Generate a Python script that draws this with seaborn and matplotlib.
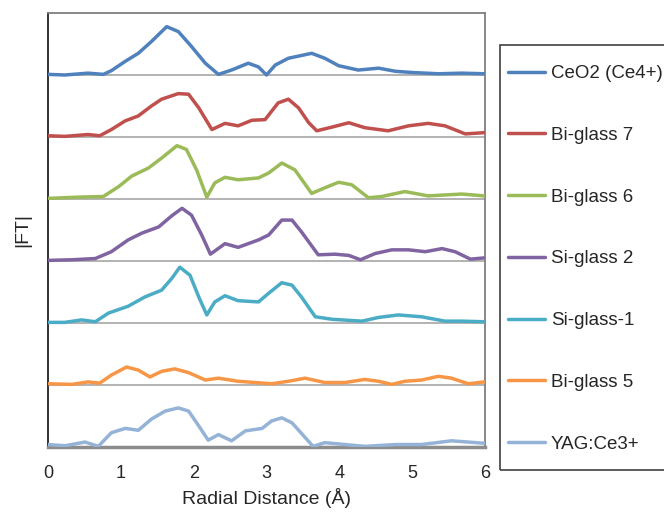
"""
FT magnitude vs radial distance, stacked curves (Ce L3 EXAFS style).
Each series is offset by one grid unit so they sit on their own baseline.
"""
import matplotlib
matplotlib.use("Agg")
import matplotlib.pyplot as plt
from matplotlib.patches import Rectangle
import seaborn as sns

sns.set_style("white")
plt.rcParams["font.family"] = ["Liberation Sans", "DejaVu Sans"]

# (radial distance, |FT|) per sample, top curve first
LABELS = ["CeO2 (Ce4+)", "Bi-glass 7", "Bi-glass 6", "Si-glass 2",
          "Si-glass-1", "Bi-glass 5", "YAG:Ce3+"]
COLORS = ["#4F81BD", "#C0504D", "#9BBB59", "#8064A2",
          "#4BACC6", "#F79646", "#95B3D7"]

ceo2_r = [0, 0.23, 0.55, 0.76, 0.87, 1.06, 1.24, 1.42, 1.63, 1.79, 1.97, 2.16,
          2.34, 2.52, 2.75, 2.89, 3.00, 3.12, 3.30, 3.62, 3.80, 3.99, 4.26,
          4.54, 4.77, 5.00, 5.36, 5.68, 5.99]
ceo2_ft = [0.01, 0.00, 0.03, 0.01, 0.07, 0.22, 0.35, 0.54, 0.78, 0.70, 0.46,
           0.19, 0.01, 0.08, 0.19, 0.13, 0.00, 0.16, 0.27, 0.35, 0.27, 0.15,
           0.08, 0.11, 0.06, 0.04, 0.02, 0.03, 0.02]

bi7_r = [0, 0.23, 0.55, 0.71, 0.87, 1.06, 1.24, 1.42, 1.56, 1.79, 1.93, 2.07,
         2.25, 2.43, 2.61, 2.80, 2.98, 3.16, 3.30, 3.44, 3.58, 3.69, 3.90,
         4.13, 4.35, 4.67, 4.95, 5.22, 5.45, 5.73, 5.99]
bi7_ft = [0.02, 0.01, 0.04, 0.02, 0.12, 0.26, 0.34, 0.50, 0.61, 0.70, 0.69,
          0.47, 0.12, 0.22, 0.18, 0.27, 0.28, 0.55, 0.61, 0.47, 0.23, 0.10,
          0.16, 0.23, 0.15, 0.10, 0.18, 0.22, 0.18, 0.05, 0.07]

bi6_r = [0, 0.42, 0.76, 0.97, 1.15, 1.38, 1.56, 1.77, 1.90, 2.04, 2.18, 2.29,
         2.43, 2.61, 2.89, 3.03, 3.21, 3.39, 3.62, 3.80, 3.99, 4.17, 4.40,
         4.58, 4.90, 5.22, 5.68, 5.99]
bi6_ft = [0.01, 0.03, 0.04, 0.20, 0.37, 0.50, 0.66, 0.86, 0.80, 0.47, 0.03,
          0.26, 0.35, 0.31, 0.34, 0.42, 0.58, 0.47, 0.09, 0.18, 0.27, 0.23,
          0.02, 0.04, 0.12, 0.05, 0.08, 0.05]

si2_r = [0, 0.33, 0.65, 0.87, 1.10, 1.29, 1.52, 1.70, 1.84, 1.97, 2.11, 2.23,
         2.43, 2.61, 2.89, 3.03, 3.21, 3.35, 3.48, 3.71, 3.94, 4.13, 4.29,
         4.49, 4.72, 4.95, 5.18, 5.41, 5.59, 5.80, 5.99]
si2_ft = [0.01, 0.02, 0.04, 0.15, 0.34, 0.45, 0.55, 0.73, 0.85, 0.74, 0.42,
          0.11, 0.28, 0.22, 0.34, 0.42, 0.66, 0.66, 0.47, 0.10, 0.11, 0.09,
          0.02, 0.12, 0.18, 0.18, 0.15, 0.20, 0.15, 0.03, 0.05]

si1_r = [0, 0.23, 0.46, 0.65, 0.83, 1.10, 1.33, 1.56, 1.70, 1.81, 1.95, 2.07,
         2.18, 2.29, 2.43, 2.61, 2.89, 3.03, 3.21, 3.35, 3.48, 3.67, 3.90,
         4.31, 4.54, 4.81, 5.13, 5.45, 5.68, 5.99]
si1_ft = [0.01, 0.01, 0.05, 0.02, 0.16, 0.27, 0.42, 0.53, 0.72, 0.90, 0.77,
          0.42, 0.13, 0.34, 0.44, 0.36, 0.34, 0.48, 0.65, 0.61, 0.42, 0.10,
          0.06, 0.03, 0.09, 0.13, 0.10, 0.03, 0.03, 0.02]

bi5_r = [0, 0.33, 0.55, 0.71, 0.87, 1.08, 1.24, 1.40, 1.56, 1.74, 1.93, 2.16,
         2.34, 2.61, 3.07, 3.30, 3.53, 3.80, 4.08, 4.35, 4.54, 4.72, 4.90,
         5.13, 5.36, 5.54, 5.77, 5.99]
bi5_ft = [0.02, 0.01, 0.05, 0.03, 0.16, 0.29, 0.24, 0.13, 0.22, 0.26, 0.20,
          0.08, 0.11, 0.06, 0.02, 0.06, 0.11, 0.04, 0.04, 0.09, 0.06, 0.01,
          0.06, 0.08, 0.14, 0.11, 0.02, 0.05]

yag_r = [0, 0.23, 0.51, 0.69, 0.87, 1.06, 1.24, 1.42, 1.61, 1.79, 1.93, 2.07,
         2.20, 2.34, 2.52, 2.71, 2.94, 3.07, 3.21, 3.35, 3.51, 3.64, 3.80,
         4.08, 4.35, 4.77, 5.13, 5.54, 5.99]
yag_ft = [0.04, 0.02, 0.08, 0.01, 0.23, 0.30, 0.27, 0.45, 0.58, 0.63, 0.58,
          0.34, 0.11, 0.20, 0.10, 0.26, 0.30, 0.42, 0.47, 0.39, 0.18, 0.01,
          0.07, 0.04, 0.01, 0.04, 0.04, 0.10, 0.06]

SERIES = [(ceo2_r, ceo2_ft), (bi7_r, bi7_ft), (bi6_r, bi6_ft), (si2_r, si2_ft),
          (si1_r, si1_ft), (bi5_r, bi5_ft), (yag_r, yag_ft)]

W, H = 664, 514


def main():
    fig = plt.figure(figsize=(W / 100, H / 100), dpi=100)
    ax = fig.add_axes([48 / W, 67 / H, 437 / W, 434 / H])

    # baselines: one gridline per stacked curve
    for k in range(1, 7):
        ax.axhline(k, color="#A6A6A6", lw=1.2, zorder=1)

    n = len(SERIES)
    for i, ((r, ft), lab, col) in enumerate(zip(SERIES, LABELS, COLORS)):
        offset = n - 1 - i
        sns.lineplot(x=r, y=[v + offset for v in ft], color=col, lw=2.5,
                     label=lab, ax=ax, sort=False, estimator=None, zorder=3)

    ax.set_xlim(0, 6)
    ax.set_ylim(0, 7)
    ax.set_xticks(range(7))
    ax.set_yticks([])
    ax.tick_params(axis="x", length=0, pad=13, labelsize=13)
    ax.set_xlabel("Radial Distance (Å)", fontsize=14, labelpad=4)
    ax.set_ylabel("|FT|", fontsize=14, labelpad=12)

    ax.spines["left"].set_color("#222222")
    ax.spines["left"].set_linewidth(1.3)
    ax.spines["bottom"].set_color("#8C8C8C")
    ax.spines["bottom"].set_linewidth(2.5)
    for s in ("top", "right"):
        ax.spines[s].set_color("#7F7F7F")
        ax.spines[s].set_linewidth(1.3)

    # legend box runs off the right edge of the picture, like the original
    fig.add_artist(Rectangle((500 / W, 1 - 470 / H), 0.3, 425 / H,
                             transform=fig.transFigure, fill=False,
                             edgecolor="#404040", lw=1.2, clip_on=False))
    handles, labels = ax.get_legend_handles_labels()
    ax.get_legend().remove()
    fig.legend(handles, labels, loc="upper left",
               bbox_to_anchor=(508 / W, 1 - 65 / H),
               borderaxespad=0, borderpad=0, fontsize=13.5, frameon=False,
               handlelength=1.95, handletextpad=0.33, labelspacing=2.38)

    fig.savefig("out.png", dpi=100)
    plt.close(fig)


if __name__ == "__main__":
    main()
